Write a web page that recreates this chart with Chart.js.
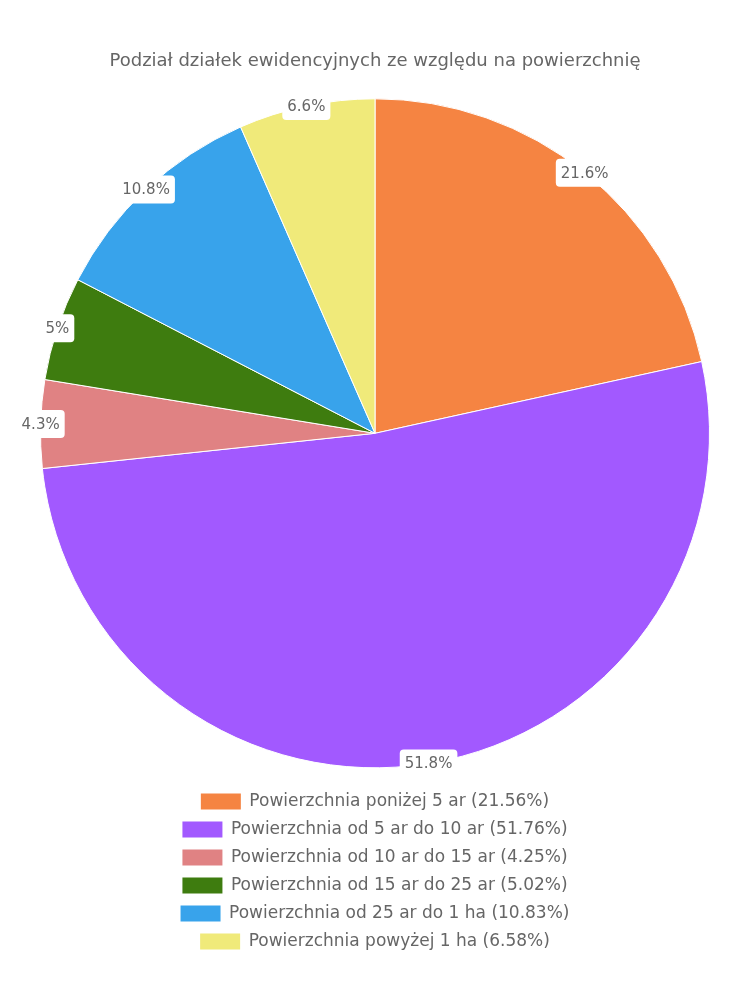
<!DOCTYPE html>
<html>
<head>
<meta charset="utf-8">
<script src="https://cdn.jsdelivr.net/npm/chart.js@4"></script>
<style>
  html, body { margin: 0; padding: 0; background: #fff; }
  #wrap { width: 750px; height: 1000px; }
</style>
</head>
<body>
<div id="wrap"><canvas id="pieChart" width="750" height="1000"></canvas></div>
<script>
// dane wykresu
const categories = [
  'Powierzchnia poniżej 5 ar',
  'Powierzchnia od 5 ar do 10 ar',
  'Powierzchnia od 10 ar do 15 ar',
  'Powierzchnia od 15 ar do 25 ar',
  'Powierzchnia od 25 ar do 1 ha',
  'Powierzchnia powyżej 1 ha'
];
const shares = [21.56, 51.76, 4.25, 5.02, 10.83, 6.58];
const colors = ['#f58442', '#a259ff', '#e08283', '#3e7c0f', '#38a3eb', '#f0ea7a'];

const FONT = "'DejaVu Sans', sans-serif";
const TEXT_COLOR = '#666';

// etykiety procentowe na krawędzi wycinków
const edgeLabels = {
  id: 'edgeLabels',
  afterDatasetsDraw(chart) {
    const ctx = chart.ctx;
    const meta = chart.getDatasetMeta(0);
    ctx.save();
    ctx.font = '15px ' + FONT;
    ctx.textAlign = 'center';
    ctx.textBaseline = 'middle';
    meta.data.forEach((arc, i) => {
      const p = arc.getProps(['x', 'y', 'startAngle', 'endAngle', 'outerRadius'], true);
      const mid = (p.startAngle + p.endAngle) / 2;
      const cx = p.x + Math.cos(mid) * p.outerRadius;
      const cy = p.y + Math.sin(mid) * p.outerRadius;
      const txt = Number(shares[i].toFixed(1)) + '%';
      const w = ctx.measureText(txt).width + 10;
      const h = 28;
      ctx.fillStyle = '#fff';
      ctx.beginPath();
      ctx.roundRect(cx - w / 2, cy - h / 2, w, h, 4);
      ctx.fill();
      ctx.fillStyle = TEXT_COLOR;
      ctx.fillText(txt, cx, cy + 1);
    });
    ctx.restore();
  }
};

const ctx = document.getElementById('pieChart').getContext('2d');
new Chart(ctx, {
  type: 'pie',
  data: {
    labels: categories,
    datasets: [{
      data: shares,
      backgroundColor: colors,
      borderColor: '#fff',
      borderWidth: 1
    }]
  },
  options: {
    responsive: false,
    animation: false,
    layout: { padding: { top: 51, bottom: 40, left: 40, right: 40 } },
    plugins: {
      title: {
        display: true,
        text: 'Podział działek ewidencyjnych ze względu na powierzchnię',
        color: TEXT_COLOR,
        font: { family: FONT, size: 18, weight: 'normal' },
        padding: { top: 0, bottom: 12 }
      },
      legend: {
        position: 'bottom',
        labels: {
          color: TEXT_COLOR,
          font: { family: FONT, size: 17 },
          boxWidth: 40,
          boxHeight: 16,
          padding: 11,
          generateLabels(chart) {
            return categories.map((c, i) => ({
              text: c + ' (' + shares[i] + '%)',
              fillStyle: colors[i],
              strokeStyle: colors[i],
              lineWidth: 0,
              fontColor: TEXT_COLOR,
              index: i,
              hidden: false
            }));
          }
        }
      },
      tooltip: { enabled: false }
    }
  },
  plugins: [edgeLabels]
});
</script>
</body>
</html>
